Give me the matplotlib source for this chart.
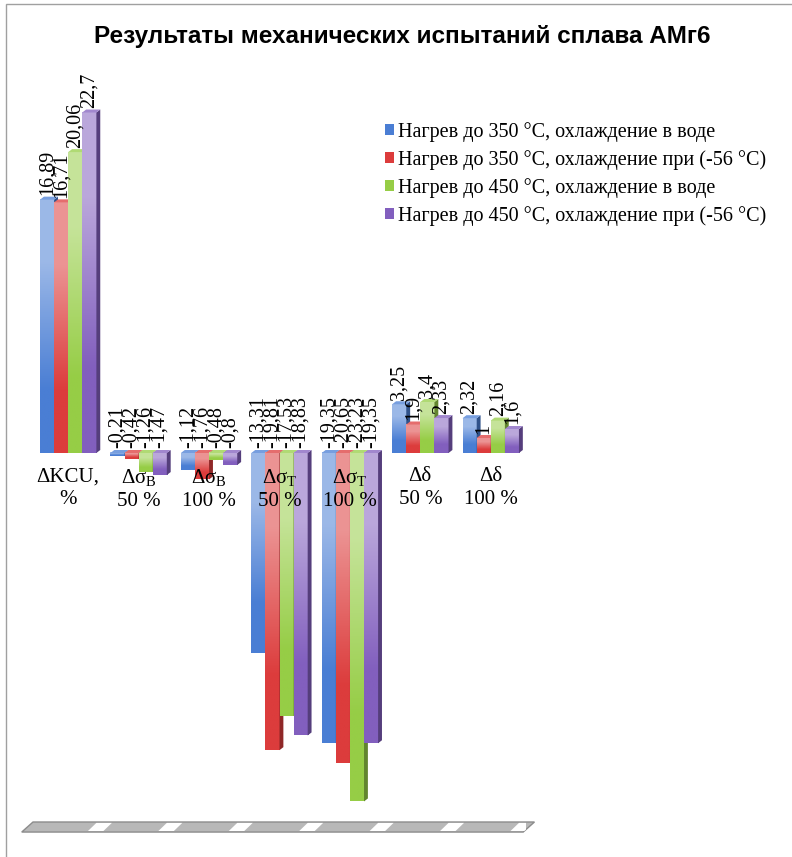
import numpy as np
import matplotlib
matplotlib.use("Agg")
import matplotlib.pyplot as plt
from matplotlib.patches import Polygon, Patch, Rectangle

plt.rcParams["font.family"] = ["Liberation Serif", "DejaVu Serif"]
plt.rcParams["mathtext.fontset"] = "custom"
plt.rcParams["mathtext.rm"] = "Liberation Serif"

# data
categories = ["ΔKCU,\n%", "Δσ$_\\mathrm{B}$\n50 %", "Δσ$_\\mathrm{B}$\n100 %",
              "Δσ$_\\mathrm{T}$\n50 %", "Δσ$_\\mathrm{T}$\n100 %", "Δδ\n50 %", "Δδ\n100 %"]
series_names = ["Нагрев до 350 °C, охлаждение в воде",
                "Нагрев до 350 °C, охлаждение при (-56 °C)",
                "Нагрев до 450 °C, охлаждение в воде",
                "Нагрев до 450 °C, охлаждение при (-56 °C)"]
heat350_water = [16.89, -0.21, -1.12, -13.31, -19.35, 3.25, 2.32]
heat350_cold = [16.71, -0.42, -1.76, -19.81, -20.65, 1.9, 1]
heat450_water = [20.06, -1.26, -0.48, -17.53, -23.23, 3.4, 2.16]
heat450_cold = [22.7, -1.47, -0.8, -18.83, -19.35, 2.33, 1.6]
series = [heat350_water, heat350_cold, heat450_water, heat450_cold]

base_colors = ["#4A7ED4", "#DC3C3C", "#96CD46", "#825FBE"]


def mix(c, other, t):
    c = np.array(matplotlib.colors.to_rgb(c))
    o = np.array(matplotlib.colors.to_rgb(other))
    return tuple(c * (1 - t) + o * t)


fig = plt.figure(figsize=(7.92, 8.57), dpi=100)
ax = fig.add_axes([33 / 792, 17 / 857, 493 / 792, 750 / 857])
ax.set_xlim(-0.5, 6.5)
ax.set_ylim(-25.8, 24.2)
ax.axis("off")

w = 0.2
dx, dy = 0.055, 0.2
x = np.arange(len(categories))

# floor
floor = Polygon([(-0.66, -25.27), (-0.5, -24.6), (6.62, -24.6), (6.46, -25.27)],
                closed=True, facecolor="#b8b8b8", edgecolor="#8c8c8c", lw=1, zorder=1,
                clip_on=False)
ax.add_patch(floor)
for b in list(x[:-1] + 0.5) + [6.5]:
    dash = Polygon([(b - 0.22, -25.2), (b - 0.1, -24.66), (b + 0.12, -24.66), (b + 0.0, -25.2)],
                   closed=True, facecolor="white", edgecolor="none", zorder=2)
    ax.add_patch(dash)
    dash.set_clip_path(floor)

for i, (vals, col) in enumerate(zip(series, base_colors)):
    light = mix(col, "white", 0.45)
    base = matplotlib.colors.to_rgb(col)
    dark = mix(col, "black", 0.35)
    top_col = mix(col, "white", 0.25)
    for j, v in enumerate(vals):
        x0 = x[j] - 0.4 + i * w
        lo, hi = min(0, v), max(0, v)
        z = 3 + i * 3
        grad = np.array([light, base]).reshape(2, 1, 3)
        ax.imshow(grad, extent=(x0, x0 + w, lo, hi), aspect="auto",
                  interpolation="bilinear", zorder=z)
        ax.add_patch(Polygon([(x0 + w, lo), (x0 + w + dx, lo + dy), (x0 + w + dx, hi + dy), (x0 + w, hi)],
                             closed=True, facecolor=dark, edgecolor="none", zorder=z + 1))
        ax.add_patch(Polygon([(x0, hi), (x0 + dx, hi + dy), (x0 + w + dx, hi + dy), (x0 + w, hi)],
                             closed=True, facecolor=top_col, edgecolor="none", zorder=z + 1))
        ax.text(x0 + w / 2, hi + 0.3, str(v).replace(".", ","), rotation=90,
                ha="center", va="bottom", fontsize=14.5, zorder=30)

for j, lab in enumerate(categories):
    ax.text(x[j], -0.95, lab, ha="center", va="top", fontsize=15,
            linespacing=1.25, zorder=30)

ax.set_xlim(-0.5, 6.5)
ax.set_ylim(-25.8, 24.2)

handles = [Patch(facecolor=c, edgecolor="none") for c in base_colors]
fig.legend(handles, series_names, loc="upper left", bbox_to_anchor=(367 / 792, 1 - 104 / 857),
           frameon=False, fontsize=14.5, handlelength=0.45, handleheight=0.45,
           handletextpad=0.2, labelspacing=0.4)

fig.text(0.508, 1 - 36 / 857, "Результаты механических испытаний сплава АМг6",
         ha="center", va="center", fontsize=17.5, fontweight="bold",
         family=["Liberation Sans", "DejaVu Sans"])

fig.patches.append(Rectangle((6 / 792, -0.01), 1.0, 1 - 4 / 857 + 0.01, transform=fig.transFigure,
                             fill=False, edgecolor="#a0a0a0", lw=1))

fig.savefig("out.png", dpi=100)
